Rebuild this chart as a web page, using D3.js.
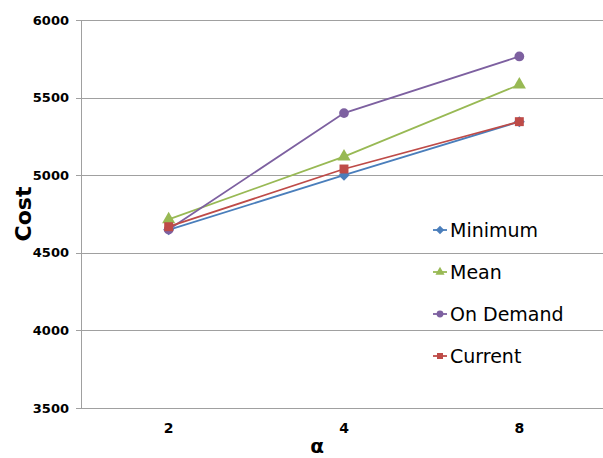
<!DOCTYPE html>
<html><head><meta charset="utf-8">
<script src="https://cdn.jsdelivr.net/npm/d3@7"></script>
<style>body{margin:0;background:#fff}svg{display:block}</style>
</head><body>
<script>
const categories = ["2", "4", "8"];
const yTicks = [3500, 4000, 4500, 5000, 5500, 6000];
const seriesNames = ["Minimum", "Mean", "On Demand", "Current"];
const minimumValues = [4648, 5000, 5345];
const meanValues = [4715, 5120, 5583];
const onDemandValues = [4650, 5400, 5765];
const currentValues = [4668, 5040, 5345];
const seriesColors = ["#4a7ebb", "#98b954", "#7d60a0", "#be4b48"];
const seriesSymbols = [d3.symbolSquare, d3.symbolTriangle, d3.symbolCircle, d3.symbolSquare];
const seriesRotate = [45, 0, 0, 0];

const series = [
  {name: seriesNames[0], values: minimumValues},
  {name: seriesNames[1], values: meanValues},
  {name: seriesNames[2], values: onDemandValues},
  {name: seriesNames[3], values: currentValues}
];
const drawOrder = [0, 1, 2, 3];

const W = 603, H = 458;
const svg = d3.select("body").append("svg").attr("width", W).attr("height", H);
const mLeft = 81, mRight = 607, mTop = 20, mBottom = 408;

const x = d3.scaleBand().domain(categories).range([mLeft, mRight]);
const y = d3.scaleLinear().domain([3500, 6000]).range([mBottom, mTop]);

// gridlines
svg.append("g").selectAll("line").data(yTicks).join("line")
  .attr("x1", mLeft - 5).attr("x2", W)
  .attr("y1", d => Math.round(y(d)) + 0.5).attr("y2", d => Math.round(y(d)) + 0.5)
  .attr("stroke", "#a0a0a0").attr("stroke-width", 1);
// y axis line
svg.append("line").attr("x1", mLeft + 0.5).attr("x2", mLeft + 0.5)
  .attr("y1", mTop).attr("y2", mBottom + 0.5).attr("stroke", "#a0a0a0");

// y tick labels
svg.append("g").selectAll("text").data(yTicks).join("text")
  .attr("x", mLeft - 12).attr("y", d => y(d))
  .attr("dy", "0.35em").attr("text-anchor", "end")
  .attr("font-family", "DejaVu Sans").attr("font-weight", "bold").attr("font-size", 13)
  .attr("fill", "#000").text(d => d);

// x tick labels
svg.append("g").selectAll("text").data(categories).join("text")
  .attr("x", d => x(d) + x.bandwidth() / 2).attr("y", 433)
  .attr("text-anchor", "middle")
  .attr("font-family", "DejaVu Sans").attr("font-weight", "bold").attr("font-size", 14)
  .attr("fill", "#000").text(d => d);

// axis titles
svg.append("text").attr("x", 317).attr("y", 453).attr("text-anchor", "middle")
  .attr("font-family", "DejaVu Sans").attr("font-weight", "bold").attr("font-size", 20)
  .text("α");
svg.append("text").attr("transform", "translate(31,214) rotate(-90)")
  .attr("text-anchor", "middle")
  .attr("font-family", "DejaVu Sans").attr("font-weight", "bold").attr("font-size", 22)
  .text("Cost");

const line = d3.line().x((d, i) => x(categories[i]) + x.bandwidth() / 2).y(d => y(d));
const symSize = [60, 75, 75, 80];

drawOrder.forEach(i => {
  const s = series[i];
  const g = svg.append("g");
  g.append("path").attr("d", line(s.values)).attr("fill", "none")
    .attr("stroke", seriesColors[i]).attr("stroke-width", 1.8);
  g.selectAll("path.m").data(s.values).join("path").attr("class", "m")
    .attr("transform", (d, j) => `translate(${x(categories[j]) + x.bandwidth() / 2},${y(d)}) rotate(${seriesRotate[i]})`)
    .attr("d", d3.symbol().type(seriesSymbols[i]).size(symSize[i]))
    .attr("fill", seriesColors[i]);
});

// legend
const lg = svg.append("g");
series.forEach((s, i) => {
  const ly = 230 + i * 42;
  lg.append("line").attr("x1", 433).attr("x2", 447).attr("y1", ly).attr("y2", ly)
    .attr("stroke", seriesColors[i]).attr("stroke-width", 1.8);
  lg.append("path").attr("transform", `translate(440,${ly}) rotate(${seriesRotate[i]})`)
    .attr("d", d3.symbol().type(seriesSymbols[i]).size(36)).attr("fill", seriesColors[i]);
  lg.append("text").attr("x", 450).attr("y", ly).attr("dy", "0.35em")
    .attr("font-family", "DejaVu Sans").attr("font-size", 19).attr("fill", "#000")
    .text(s.name);
});
</script>
</body></html>
